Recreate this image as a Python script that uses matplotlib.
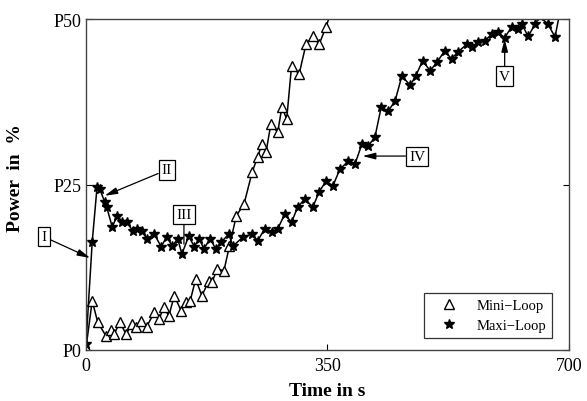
import numpy as np
import matplotlib.pyplot as plt

plt.rcParams['font.family'] = 'Liberation Serif'
plt.rcParams['mathtext.fontset'] = 'stix'

# Mini-Loop measurement (time in s, power in %)
mini_t = [0, 9, 17, 29, 36, 41, 49, 58, 67, 72, 80, 88, 99, 106, 113, 120,
          128, 138, 145, 151, 159, 168, 178, 183, 190, 200, 208, 218, 229,
          241, 249, 255, 261, 268, 278, 284, 291, 298, 309, 319, 329, 338,
          348, 358]
mini_p = [0.3, 7.4, 4.2, 2.1, 3.0, 2.4, 4.2, 2.4, 3.9, 3.5, 4.4, 3.5, 5.7,
          4.7, 6.5, 5.1, 8.2, 5.9, 7.3, 7.4, 10.7, 8.2, 10.4, 10.3, 12.2,
          12.0, 15.7, 20.3, 22.0, 26.9, 29.2, 31.1, 29.9, 34.1, 32.9, 36.7,
          34.9, 42.9, 41.7, 46.2, 47.4, 46.2, 48.8, 52.0]

# Maxi-Loop measurement (time in s, power in %)
maxi_t = [0, 9, 16, 20, 27, 30, 38, 45, 52, 59, 68, 74, 81, 88, 99, 109,
          117, 125, 133, 139, 149, 157, 164, 171, 180, 188, 196, 207, 213,
          228, 241, 249, 259, 269, 278, 288, 298, 307, 317, 329, 338, 348,
          358, 368, 380, 390, 400, 409, 419, 428, 438, 448, 458, 470, 478,
          488, 499, 509, 520, 530, 539, 552, 559, 568, 578, 588, 597, 607,
          617, 626, 632, 641, 651, 658, 670, 680, 687]
maxi_p = [0.9, 16.3, 24.6, 24.3, 22.4, 21.6, 18.6, 20.2, 19.3, 19.3, 18.0,
          18.3, 18.0, 16.8, 17.5, 15.6, 17.1, 15.7, 16.8, 14.5, 17.2, 15.6,
          16.8, 15.3, 16.8, 15.3, 16.3, 17.5, 15.7, 17.1, 17.5, 16.5, 18.3,
          17.8, 18.3, 20.5, 19.3, 21.6, 22.8, 21.6, 23.9, 25.5, 24.8, 27.3,
          28.5, 28.1, 31.1, 30.8, 32.2, 36.7, 36.1, 37.6, 41.4, 40.0, 41.4,
          43.7, 42.2, 43.5, 45.2, 44.0, 45.0, 46.2, 45.8, 46.5, 46.7, 47.7,
          48.0, 47.2, 48.8, 48.5, 49.2, 47.4, 49.2, 50.4, 49.2, 47.3, 51.0]

fig = plt.figure(figsize=(5.87, 4.02), dpi=100)
ax = fig.add_axes([0.1465, 0.127, 0.8225, 0.823])

ax.plot(mini_t, mini_p, color='black', lw=1.1, marker='^', ms=6.5,
        mfc='white', mec='black', mew=1.0, label='Mini\u2212Loop')
ax.plot(maxi_t, maxi_p, color='black', lw=1.1, marker='*', ms=7,
        mfc='black', mec='black', label='Maxi\u2212Loop')

ax.set_xlim(0, 700)
ax.set_ylim(0, 50)
ax.set_xticks([0, 350, 700])
ax.set_yticks([0, 25, 50])
ax.set_yticklabels(['P0', 'P25', 'P50'])
ax.tick_params(direction='in', length=4, labelsize=13, right=True, pad=3)
ax.tick_params(axis='x', pad=5)
for s in ax.spines.values():
    s.set_color('#444444')
    s.set_linewidth(1.0)

ax.set_xlabel('Time in s', fontsize=14, fontweight='bold', labelpad=6)
ax.set_ylabel('Power  in  %', fontsize=14, fontweight='bold')
ax.yaxis.set_label_coords(-0.128, 0.523)

# phase annotations
box = dict(boxstyle='square,pad=0.2', fc='white', ec='black', lw=0.9)
arr = dict(arrowstyle='-|>,head_length=0.7,head_width=0.18', color='black',
           lw=0.9, shrinkA=0, shrinkB=0)
ax.annotate('I', xy=(6, 13.9), xytext=(-61, 17.1), fontsize=11, ha='center',
            va='center', bbox=box, arrowprops=arr, annotation_clip=False)
ax.annotate('II', xy=(27, 23.3), xytext=(117, 27.2), fontsize=11,
            ha='center', va='center', bbox=box, arrowprops=arr)
ax.annotate('III', xy=(142, 16.0), xytext=(142, 20.5), fontsize=11,
            ha='center', va='center', bbox=box,
            arrowprops=dict(arrowstyle='-', color='black', lw=0.9,
                            shrinkA=0, shrinkB=0))
ax.annotate('IV', xy=(401, 29.3), xytext=(480, 29.3), fontsize=11,
            ha='center', va='center', bbox=box, arrowprops=arr)
ax.annotate('V', xy=(607, 47.0), xytext=(607, 41.4), fontsize=11,
            ha='center', va='center', bbox=box, arrowprops=arr)

leg = ax.legend(loc='lower right', bbox_to_anchor=(0.965, 0.036),
                fontsize=10.5, frameon=True, fancybox=False,
                edgecolor='black', handlelength=2.6, handletextpad=0.6,
                borderaxespad=0)
for h in leg.legend_handles:
    h.set_linestyle('None')
leg.get_frame().set_linewidth(0.9)

fig.savefig('out.png', dpi=100)
